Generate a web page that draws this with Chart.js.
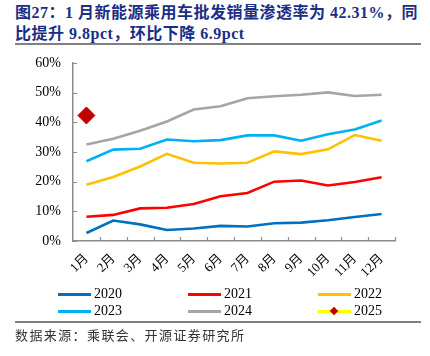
<!DOCTYPE html>
<html>
<head>
<meta charset="utf-8">
<script src="https://cdn.jsdelivr.net/npm/chart.js@4/dist/chart.umd.min.js"></script>
<style>
html,body{margin:0;padding:0;background:#fff;}
#wrap{position:relative;width:430px;height:356px;overflow:hidden;background:#fff;}
.title{position:absolute;left:15px;top:2px;width:415px;font-family:"Liberation Serif","Noto Sans CJK SC",serif;font-weight:bold;font-size:16px;line-height:21px;letter-spacing:0.5px;color:#1b2e86;}
.hr{position:absolute;left:15px;width:406px;height:2px;background:#808080;}
#cv{position:absolute;left:0;top:50px;}
.lg{position:absolute;height:16px;font-family:"Liberation Serif",serif;font-size:14px;line-height:16px;color:#000;}
.lg .ln{position:absolute;left:0;top:7px;width:33px;height:3px;}
.lg .tx{position:absolute;left:36px;top:0;}
.lg .dm{position:absolute;left:13px;top:5px;width:6px;height:6px;background:#C00000;transform:rotate(45deg);}
.src{position:absolute;left:15px;top:325px;font-family:"Noto Sans CJK SC",sans-serif;font-size:13px;letter-spacing:1.4px;color:#333;}
</style>
</head>
<body>
<div id="wrap">
<div class="title">图27：1 月新能源乘用车批发销量渗透率为 42.31%，同<br>比提升 9.8pct，环比下降 6.9pct</div>
<div class="hr" style="top:43px"></div>
<canvas id="cv" width="430" height="240" style="width:430px;height:240px"></canvas>
<div id="legend"></div>
<div class="hr" style="top:321px"></div>
<div class="src">数据来源：乘联会、开源证券研究所</div>
</div>
<script>
const months = ["1月","2月","3月","4月","5月","6月","7月","8月","9月","10月","11月","12月"];
const s2020 = [2.7, 6.9, 5.6, 3.7, 4.2, 5.1, 4.9, 6.0, 6.2, 7.0, 8.1, 9.1];
const s2021 = [8.2, 8.8, 11.0, 11.2, 12.5, 15.1, 16.2, 20.0, 20.4, 18.7, 19.9, 21.5];
const s2022 = [19.0, 21.6, 25.1, 29.4, 26.4, 26.1, 26.4, 30.2, 29.3, 30.9, 35.7, 33.8];
const s2023 = [26.9, 30.8, 31.1, 34.2, 33.6, 34.0, 35.6, 35.6, 33.8, 36.0, 37.6, 40.6];
const s2024 = [32.5, 34.5, 37.2, 40.3, 44.3, 45.4, 48.1, 48.8, 49.3, 50.1, 48.9, 49.3];
const s2025 = [42.31, null, null, null, null, null, null, null, null, null, null, null];
const yTicks = [0, 10, 20, 30, 40, 50, 60];

const seriesDefs = [
  {label:"2020", data:s2020, color:"#0070C0"},
  {label:"2021", data:s2021, color:"#FF0000"},
  {label:"2022", data:s2022, color:"#FFC000"},
  {label:"2023", data:s2023, color:"#00B0F0"},
  {label:"2024", data:s2024, color:"#A5A5A5"}
];
const datasets = seriesDefs.map(s => ({
  label:s.label, data:s.data, borderColor:s.color, backgroundColor:s.color,
  borderWidth:2.6, pointRadius:0, tension:0, fill:false
}));
datasets.push({
  label:"2025", data:s2025, borderColor:"#FFFF00", backgroundColor:"#C00000",
  pointBorderColor:"#C00000", pointBackgroundColor:"#C00000",
  pointStyle:"rectRot", pointRadius:8.5, pointBorderWidth:1, borderWidth:2.6, fill:false
});

// legend (HTML)
const lg = document.getElementById('legend');
const legItems = seriesDefs.concat([{label:"2025", color:"#FFFF00", marker:true}]);
legItems.forEach((it, i) => {
  const col = i % 3, row = Math.floor(i / 3);
  const d = document.createElement('div');
  d.className = 'lg';
  d.style.left = (58 + col * 130) + 'px';
  d.style.top = (286 + row * 17) + 'px';
  d.innerHTML = '<div class="ln" style="background:' + it.color + '"></div>' +
    (it.marker ? '<div class="dm"></div>' : '') +
    '<div class="tx">' + it.label + '</div>';
  lg.appendChild(d);
});

const axisColor = "#8c8c8c";
const tickMarks = {
  id:'tickMarks',
  afterDraw(chart){
    const ctx = chart.ctx, ca = chart.chartArea;
    const x = chart.scales.x, y = chart.scales.y;
    ctx.save();
    ctx.strokeStyle = axisColor;
    ctx.lineWidth = 1.2;
    ctx.beginPath();
    yTicks.forEach(v => {
      const py = Math.round(y.getPixelForValue(v)) + 0.5;
      ctx.moveTo(ca.left, py); ctx.lineTo(ca.left + 4, py);
    });
    const n = months.length;
    for (let i = 1; i <= n; i++) {
      let px;
      if (i === n) px = ca.right;
      else px = (x.getPixelForValue(i - 1) + x.getPixelForValue(i)) / 2;
      px = Math.round(px) + 0.5;
      ctx.moveTo(px, ca.bottom); ctx.lineTo(px, ca.bottom - 4);
    }
    ctx.stroke();
    ctx.restore();
  }
};

new Chart(document.getElementById('cv'), {
  type:'line',
  data:{labels:months, datasets:datasets},
  options:{
    responsive:false, animation:false, devicePixelRatio:1,
    layout:{padding:{left:0, right:35, top:13, bottom:0}},
    plugins:{legend:{display:false}, tooltip:{enabled:false}},
    scales:{
      x:{
        offset:true,
        grid:{display:true, drawOnChartArea:false, drawTicks:false, offset:true},
        border:{display:true, color:axisColor, width:1.5},
        ticks:{autoSkip:false, maxRotation:45, minRotation:45, padding:10, color:"#000",
          font:{family:"'Liberation Serif','Noto Sans CJK SC',serif", size:13}},
        afterFit(s){ s.height = 49; s.paddingLeft = 0; s.paddingRight = 0; }
      },
      y:{
        min:0, max:60,
        grid:{display:true, drawOnChartArea:false, drawTicks:false},
        border:{display:true, color:axisColor, width:1.5},
        afterBuildTicks(s){ s.ticks = yTicks.map(v => ({value:v})); },
        ticks:{padding:12, color:"#000", callback:v => v + '%',
          font:{family:"'Liberation Serif',serif", size:14}},
        afterFit(s){ s.width = 73; s.paddingTop = 0; s.paddingBottom = 0; }
      }
    }
  },
  plugins:[tickMarks]
});
</script>
</body>
</html>
